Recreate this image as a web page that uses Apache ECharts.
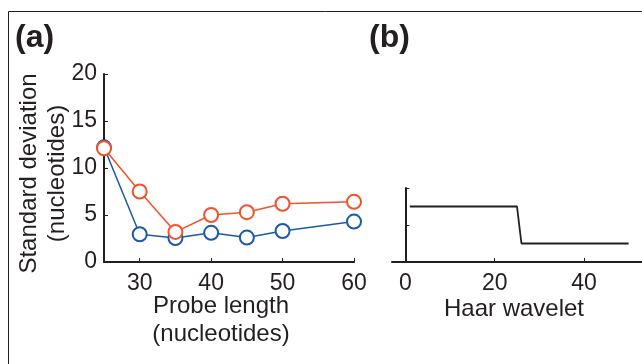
<!DOCTYPE html>
<html>
<head>
<meta charset="utf-8">
<script src="https://cdn.jsdelivr.net/npm/echarts@6/dist/echarts.min.js"></script>
<style>
  html, body { margin: 0; padding: 0; background: #fff; }
  #chart { width: 642px; height: 364px; }
</style>
</head>
<body>
<div id="chart"></div>
<script>
// panel (a): spread of estimates vs probe length
const probeLength = [25, 30, 35, 40, 45, 50, 60];
const sdBlue = [12.2, 2.95, 2.55, 3.1, 2.6, 3.3, 4.3];
const sdRed = [12.1, 7.5, 3.2, 5.0, 5.3, 6.2, 6.4];
const xTicksA = [30, 40, 50, 60];
const yTicksA = [0, 5, 10, 15, 20];

// panel (b): Haar wavelet (corner points of the step)
const haarPos = [1, 25, 26, 50];
const haarVal = [1.5, 1.5, 0.5, 0.5];
const xTicksB = [0, 20, 40];
const yTicksB = [0, 1, 2];

const FONT = 'Liberation Sans';
const INK = '#231f20';

const chart = echarts.init(document.getElementById('chart'));

const axisLine = { show: true, lineStyle: { color: INK, width: 2 } };

const option = {
    animation: false,
    textStyle: { fontFamily: FONT },
    grid: [
        { left: 104, top: 74, width: 250, height: 188 },
        { left: 392, top: 188, width: 252, height: 74 }
    ],
    xAxis: [
        {
            gridIndex: 0, type: 'value', min: 25, max: 60,
            axisLine: axisLine,
            splitLine: { show: false },
            axisTick: { show: true, inside: true, length: 4, customValues: xTicksA, lineStyle: { color: INK } },
            axisLabel: { customValues: xTicksA, margin: 10, color: INK, fontSize: 23, fontFamily: FONT },
            name: 'Probe length\n(nucleotides)',
            nameLocation: 'middle',
            nameGap: 30,
            nameMoveOverlap: false,
            nameTextStyle: { color: INK, fontSize: 24, fontFamily: FONT, lineHeight: 28, padding: [0, 16, 0, 0] }
        },
        {
            gridIndex: 1, type: 'value', min: -3, max: 53,
            axisLine: axisLine,
            splitLine: { show: false },
            axisTick: { show: true, inside: true, length: 4, customValues: xTicksB, lineStyle: { color: INK } },
            axisLabel: { customValues: xTicksB, margin: 10, color: INK, fontSize: 23, fontFamily: FONT },
            name: 'Haar wavelet',
            nameLocation: 'middle',
            nameGap: 33,
            nameMoveOverlap: false,
            nameTextStyle: { color: INK, fontSize: 24, fontFamily: FONT, lineHeight: 28, padding: [0, 6, 0, 0] }
        }
    ],
    yAxis: [
        {
            gridIndex: 0, type: 'value', min: 0, max: 20,
            axisLine: axisLine,
            splitLine: { show: false },
            axisTick: { show: true, inside: true, length: 4, customValues: yTicksA, lineStyle: { color: INK } },
            axisLabel: { customValues: yTicksA, margin: 7, color: INK, fontSize: 23, fontFamily: FONT, padding: [6, 0, 0, 0] },
            name: 'Standard deviation\n(nucleotides)',
            nameLocation: 'middle',
            nameRotate: 90,
            nameGap: 33,
            nameMoveOverlap: false,
            nameTextStyle: { color: INK, fontSize: 24, fontFamily: FONT, lineHeight: 28, padding: [0, 11, 0, 0] }
        },
        {
            gridIndex: 1, type: 'value', min: 0, max: 2,
            axisLine: axisLine,
            splitLine: { show: false },
            axisTick: { show: true, inside: true, length: 4, customValues: yTicksB, lineStyle: { color: INK } },
            axisLabel: { show: false }
        }
    ],
    series: [
        {
            type: 'line', xAxisIndex: 0, yAxisIndex: 0,
            data: probeLength.map((x, i) => [x, sdBlue[i]]),
            symbol: 'emptyCircle', symbolSize: 14,
            lineStyle: { color: '#1a5aa8', width: 1.5 },
            itemStyle: { color: '#1a5aa8', borderWidth: 1.5 }
        },
        {
            type: 'line', xAxisIndex: 0, yAxisIndex: 0,
            data: probeLength.map((x, i) => [x, sdRed[i]]),
            symbol: 'emptyCircle', symbolSize: 14,
            lineStyle: { color: '#f0532b', width: 1.5 },
            itemStyle: { color: '#f0532b', borderWidth: 1.5 }
        },
        {
            type: 'line', xAxisIndex: 1, yAxisIndex: 1,
            data: haarPos.map((x, i) => [x, haarVal[i]]),
            showSymbol: false,
            lineStyle: { color: INK, width: 1.8 }
        }
    ],
    graphic: [
        {
            type: 'polyline', silent: true,
            shape: { points: [[8.5, 364], [8.5, 11.5], [642, 11.5]] },
            style: { stroke: INK, lineWidth: 1, fill: null }
        },
        {
            type: 'text', left: 15, top: 22,
            style: { text: '(a)', font: 'bold 32px "Liberation Sans"', fill: INK }
        },
        {
            type: 'text', left: 369, top: 22,
            style: { text: '(b)', font: 'bold 32px "Liberation Sans"', fill: INK }
        }
    ]
};

chart.setOption(option);
</script>
</body>
</html>
